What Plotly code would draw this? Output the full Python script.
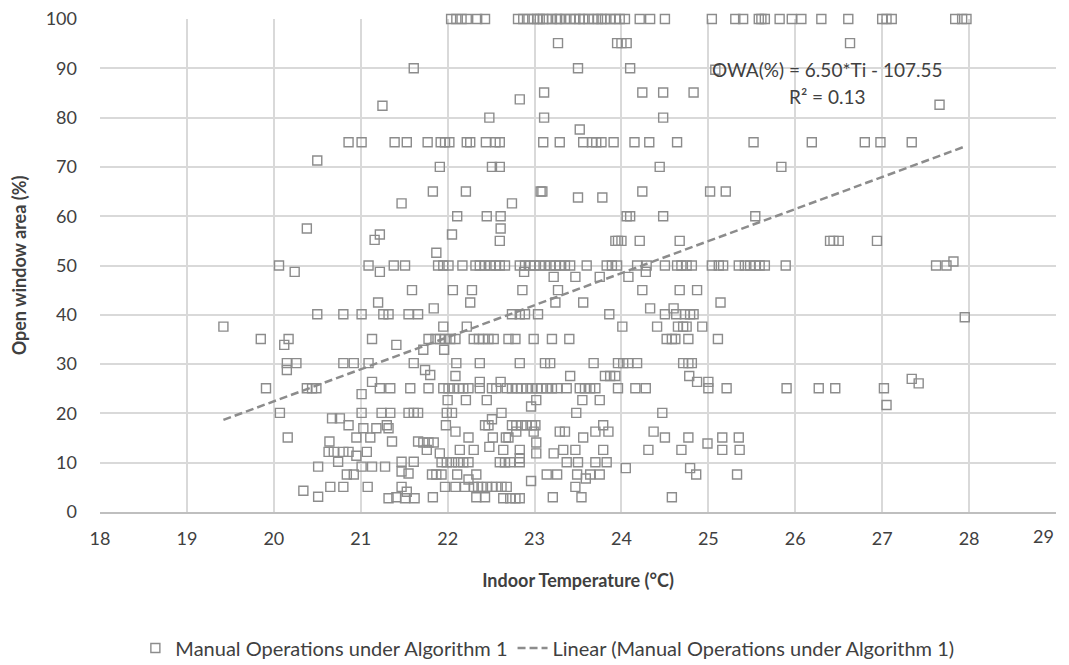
import plotly.graph_objects as go

# Open window area levels (%) and the indoor temperatures (°C) observed at each level
owa_levels = [100, 95.1, 90.0, 89.7, 85.1, 83.7, 82.6, 82.4, 80.0, 77.6, 75.0, 71.3, 70.0, 65.0, 63.8,
              62.6, 60.0, 57.5, 56.3, 55.2, 55.0, 52.6, 50.8, 50.0, 48.7, 47.7, 45.0, 42.5, 41.3,
              40.1, 39.5, 37.6, 35.1, 33.9, 32.9, 30.2, 28.8, 27.8, 27.6, 27.0, 26.4, 26.1, 25.1,
              23.9, 22.7, 21.7, 21.4, 20.1, 19.0, 18.8, 17.6, 17.0, 16.3, 15.1, 14.3, 14.1, 13.9,
              13.2, 12.6, 12.2, 11.9, 11.4, 10.9, 10.2, 10.1, 9.2, 8.9, 8.2, 7.8, 7.6, 6.8, 6.6,
              6.3, 5.1, 4.3, 4.1, 3.1, 3.0, 2.8]

temps_by_level = [
    [22.04, 22.10, 22.16, 22.22, 22.34, 22.43, 22.81, 22.87, 22.93, 22.99, 23.03, 23.06, 23.10, 23.14,
     23.20, 23.26, 23.29, 23.35, 23.41, 23.47, 23.52, 23.56, 23.62, 23.68, 23.73, 23.77, 23.81, 23.87,
     23.93, 23.98, 24.04, 24.21, 24.33, 24.50, 25.04, 25.31, 25.40, 25.58, 25.61, 25.65, 25.82, 25.96,
     26.07, 26.30, 26.61, 27.00, 27.05, 27.11, 27.84, 27.92, 27.97],
    [23.27, 23.95, 24.00, 24.06, 26.63],
    [21.61, 23.50, 24.10],
    [25.08],
    [23.11, 24.24, 24.48, 24.83],
    [22.83],
    [27.66],
    [21.25],
    [22.48, 23.11, 24.48],
    [23.52],
    [20.86, 21.01, 21.39, 21.53, 21.77, 21.92, 21.97, 22.02, 22.22, 22.26, 22.44, 22.55, 22.60, 23.10,
     23.29, 23.56, 23.66, 23.71, 23.77, 23.91, 24.15, 24.32, 24.64, 25.52, 26.19, 26.80, 26.98, 27.34],
    [20.50],
    [21.91, 22.51, 22.60, 24.44, 25.84],
    [21.83, 22.21, 23.07, 23.09, 24.24, 25.02, 25.20],
    [23.50, 23.78],
    [21.47, 22.74],
    [22.11, 22.45, 22.61, 24.06, 24.10, 24.48, 25.54],
    [20.38, 22.61],
    [21.22, 22.05],
    [21.16],
    [22.60, 23.93, 23.96, 24.00, 24.21, 24.67, 26.40, 26.44, 26.50, 26.94],
    [21.87],
    [27.82],
    [20.06, 21.09, 21.38, 21.51, 21.89, 21.95, 22.01, 22.17, 22.32, 22.37, 22.43, 22.49, 22.55, 22.60,
     22.66, 22.83, 22.89, 22.95, 23.00, 23.06, 23.12, 23.18, 23.24, 23.29, 23.35, 23.41, 23.60, 23.83,
     23.89, 23.95, 24.18, 24.29, 24.50, 24.64, 24.69, 24.75, 24.81, 25.04, 25.12, 25.17, 25.35, 25.42,
     25.48, 25.54, 25.59, 25.65, 25.89, 27.62, 27.74],
    [20.24, 21.22, 22.88, 24.28],
    [23.22, 23.47, 23.75, 24.08],
    [21.59, 22.06, 22.28, 22.86, 23.27, 24.24, 24.67, 24.87],
    [21.20, 22.26, 23.24, 23.56, 25.14],
    [21.84, 24.33, 24.60],
    [20.50, 20.80, 21.01, 21.26, 21.32, 21.55, 21.66, 22.74, 22.83, 22.89, 23.04, 23.86, 24.50, 24.63,
     24.73, 24.79, 24.83],
    [27.95],
    [19.42, 21.95, 22.22, 24.01, 24.41, 24.65, 24.71, 24.75, 24.93],
    [19.85, 20.17, 21.13, 21.78, 21.86, 21.91, 21.97, 22.03, 22.09, 22.30, 22.36, 22.41, 22.47, 22.53,
     22.70, 22.78, 22.99, 23.20, 23.40, 24.52, 24.58, 24.62, 24.77, 25.11],
    [20.12, 21.41],
    [21.72, 21.96],
    [20.15, 20.26, 20.80, 20.92, 21.09, 21.61, 22.10, 22.37, 22.83, 23.12, 23.18, 23.68, 23.96, 24.02,
     24.08, 24.18, 24.71, 24.77, 24.81],
    [20.15, 21.74],
    [21.80],
    [22.09, 23.41, 23.81, 23.87, 23.93, 24.78],
    [27.34],
    [21.13, 22.37, 22.61, 24.87, 25.00],
    [27.42],
    [19.91, 20.38, 20.44, 20.49, 21.22, 21.34, 21.57, 21.78, 21.95, 22.01, 22.07, 22.13, 22.18, 22.24,
     22.37, 22.51, 22.56, 22.68, 22.74, 22.80, 22.85, 22.91, 22.97, 23.03, 23.08, 23.14, 23.20, 23.26,
     23.37, 23.52, 23.58, 23.64, 23.70, 23.96, 24.16, 24.28, 25.00, 25.21, 25.90, 26.27, 26.46, 27.02],
    [21.01],
    [22.00, 22.21, 22.45, 23.02, 23.55, 23.75],
    [27.05],
    [22.96],
    [20.07, 21.01, 21.24, 21.34, 21.55, 21.61, 21.66, 21.99, 22.05, 22.62, 23.48, 24.47],
    [20.67, 20.76],
    [22.51],
    [20.86, 21.30, 21.98, 22.43, 22.47, 22.74, 22.79, 22.85, 22.91, 22.97, 23.01, 23.79],
    [21.03, 21.18, 21.32],
    [22.09, 22.79, 22.99, 23.29, 23.35, 23.70, 23.85, 24.37],
    [20.16, 20.95, 21.11, 22.24, 22.52, 22.67, 22.70, 23.56, 24.50, 24.77, 25.16, 25.35],
    [20.64, 21.36, 21.66],
    [21.72, 21.78, 21.84, 23.02],
    [24.99],
    [22.48],
    [21.76, 22.14, 22.30, 22.64, 22.83, 23.33, 23.47, 23.79, 24.31, 24.69, 25.16, 25.36],
    [20.63, 20.69, 20.80, 20.86, 21.07],
    [21.91, 23.02, 23.22],
    [20.95],
    [22.83],
    [20.74, 21.47, 21.61],
    [21.93, 21.99, 22.05, 22.12, 22.18, 22.24, 22.60, 22.66, 22.72, 22.83, 23.37, 23.50, 23.70, 23.83],
    [20.51, 21.01, 21.13, 21.28],
    [24.05, 24.79],
    [21.47],
    [21.55],
    [20.84, 20.92, 21.82, 21.87, 21.93, 22.11, 22.33, 23.14, 23.26, 23.49, 23.64, 23.75, 24.86, 25.33],
    [23.59],
    [22.24],
    [22.96],
    [20.65, 20.80, 21.08, 21.47, 21.97, 22.09, 22.20, 22.30, 22.35, 22.39, 22.45, 22.51, 22.56, 22.62,
     22.68, 23.47],
    [20.34],
    [21.53],
    [20.51],
    [21.41, 21.83, 22.33, 22.43, 23.21, 23.54, 24.58],
    [21.32, 21.51, 21.62, 22.64, 22.72, 22.78, 22.83],
]

# Linear trend as reported on the chart
trend_slope = 6.50
trend_intercept = -107.55

x_ticks = list(range(18, 30))
x_tick_labels = [str(t) for t in x_ticks[:-1]] + [""]   # last label placed separately (kept inside)
last_x_label = str(x_ticks[-1])
y_ticks = list(range(0, 101, 10))

series_name = "Manual Operations under Algorithm 1"
trend_name = "Linear (Manual Operations under Algorithm 1)"
equation_text = "OWA(%) = 6.50*Ti - 107.55"
r2_text = "R² = 0.13"

indoor_temp = []
open_window_area = []
for level, temps in zip(owa_levels, temps_by_level):
    indoor_temp.extend(temps)
    open_window_area.extend([level] * len(temps))

trend_x = [min(indoor_temp), max(indoor_temp)]
trend_y = [trend_slope * t + trend_intercept for t in trend_x]

FONT = "Lato, 'Noto Sans', sans-serif"
TXT = "#404040"
GRID = "#d9d9d9"
MARK = "#8c8c8c"

fig = go.Figure()
fig.add_trace(go.Scatter(
    x=indoor_temp, y=open_window_area, mode="markers", name=series_name, cliponaxis=False,
    marker=dict(symbol="square-open", size=9, color=MARK, line=dict(width=1.4, color=MARK)),
))
fig.add_trace(go.Scatter(
    x=trend_x, y=trend_y, mode="lines", name=trend_name,
    line=dict(color=MARK, width=2.5, dash="8px,4px"),
))

fig.add_annotation(x=26.37, y=89.7, xref="x", yref="y", text=equation_text, showarrow=False,
                   font=dict(family=FONT, size=19, color=TXT), xanchor="center", yanchor="middle")
fig.add_annotation(x=26.37, y=84.2, xref="x", yref="y", text=r2_text, showarrow=False,
                   font=dict(family=FONT, size=19, color=TXT), xanchor="center", yanchor="middle")
fig.add_annotation(x=1.0, y=-0.048, xref="paper", yref="paper", text=last_x_label, showarrow=False,
                   font=dict(family=FONT, size=18, color=TXT), xanchor="right", yanchor="middle")

fig.update_layout(
    width=1061, height=657,
    margin=dict(l=92, r=13, t=11, b=153, autoexpand=False),
    paper_bgcolor="white", plot_bgcolor="white",
    font=dict(family=FONT, size=18, color=TXT),
    showlegend=True,
    legend=dict(orientation="h", x=0.037, xanchor="left", y=-0.276, yanchor="middle",
                font=dict(family=FONT, size=20, color=TXT)),
    xaxis=dict(range=[18, 29], tickvals=x_ticks, ticktext=x_tick_labels, showgrid=True,
               gridcolor=GRID, gridwidth=1.5, ticklabeloverflow="allow",
               zeroline=False, showline=True, linecolor="#bfbfbf", linewidth=1.5, automargin=False,
               ticks="", ticklabelstandoff=10, tickfont=dict(size=18, color=TXT),
               title=dict(text="<b>Indoor Temperature (°C)</b>", standoff=26,
                          font=dict(size=18, color=TXT))),
    yaxis=dict(range=[0, 100], tickvals=y_ticks, showgrid=True, gridcolor=GRID, gridwidth=1.5,
               zeroline=False, showline=False, ticks="", ticklabelstandoff=22, automargin=False,
               ticklabeloverflow="allow", tickfont=dict(size=18, color=TXT),
               title=dict(text="<b>Open window area (%)</b>", standoff=22,
                          font=dict(size=18, color=TXT))),
)

fig.write_html("out.html")
